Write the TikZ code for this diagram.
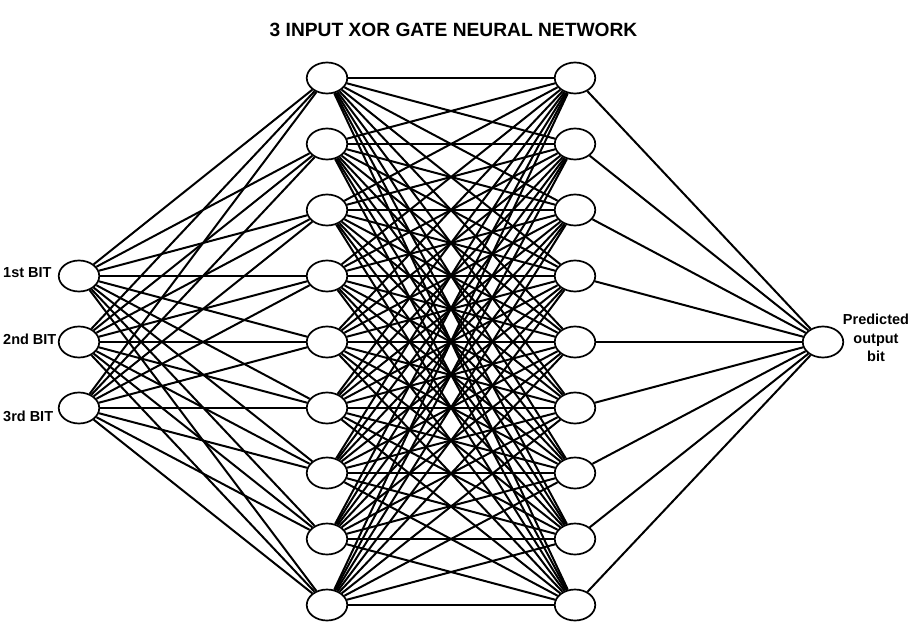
\documentclass[tikz,border=0pt]{standalone}
\usepackage{fontspec}
\setmainfont{Liberation Sans}
\usetikzlibrary{shapes.geometric}
\begin{document}
\begin{tikzpicture}[x=1pt,y=-1pt,
  neuron/.style={ellipse,draw,line width=1.7pt,minimum width=40.5pt,minimum height=31pt,inner sep=0pt,fill=white},
  link/.style={line width=2pt},
  lbl/.style={font=\bfseries\fontsize{14.5}{18.5}\selectfont,inner sep=0pt},
  ttl/.style={font=\bfseries\fontsize{19.2}{22}\selectfont,inner sep=0pt}]
\useasboundingbox[fill=white] (0,0) rectangle (912,634);
% nodes
\foreach \y [count=\i from 0] in {78,144,210,276,342,408,473,539,605}{
  \node[neuron] (a\i) at (327,\y) {};
  \node[neuron] (b\i) at (575,\y) {};
}
\node[neuron] (x3) at (79,276) {};
\node[neuron] (x4) at (79,342) {};
\node[neuron] (x5) at (79,408) {};
\node[neuron] (out) at (823,342) {};
% connectors
\foreach \i in {3,4,5}{
  \foreach \j in {0,...,8}{
    \draw[link] (x\i) -- (a\j);
  }
}
\foreach \i in {0,...,8}{
  \foreach \j in {0,...,8}{
    \draw[link] (a\i) -- (b\j);
  }
  \draw[link] (b\i) -- (out);
}
% labels
\node[ttl,anchor=base] (title) at (453.5,37) {3 INPUT XOR GATE NEURAL NETWORK};
\node[lbl,anchor=base west] (l1) at (3,277) {1st BIT};
\node[lbl,anchor=base west] (l2) at (3,344) {2nd BIT};
\node[lbl,anchor=base west] (l3) at (3,421) {3rd BIT};
\node[lbl,align=center] (lo) at (876,338) {Predicted\\output\\bit};
\end{tikzpicture}
\end{document}
